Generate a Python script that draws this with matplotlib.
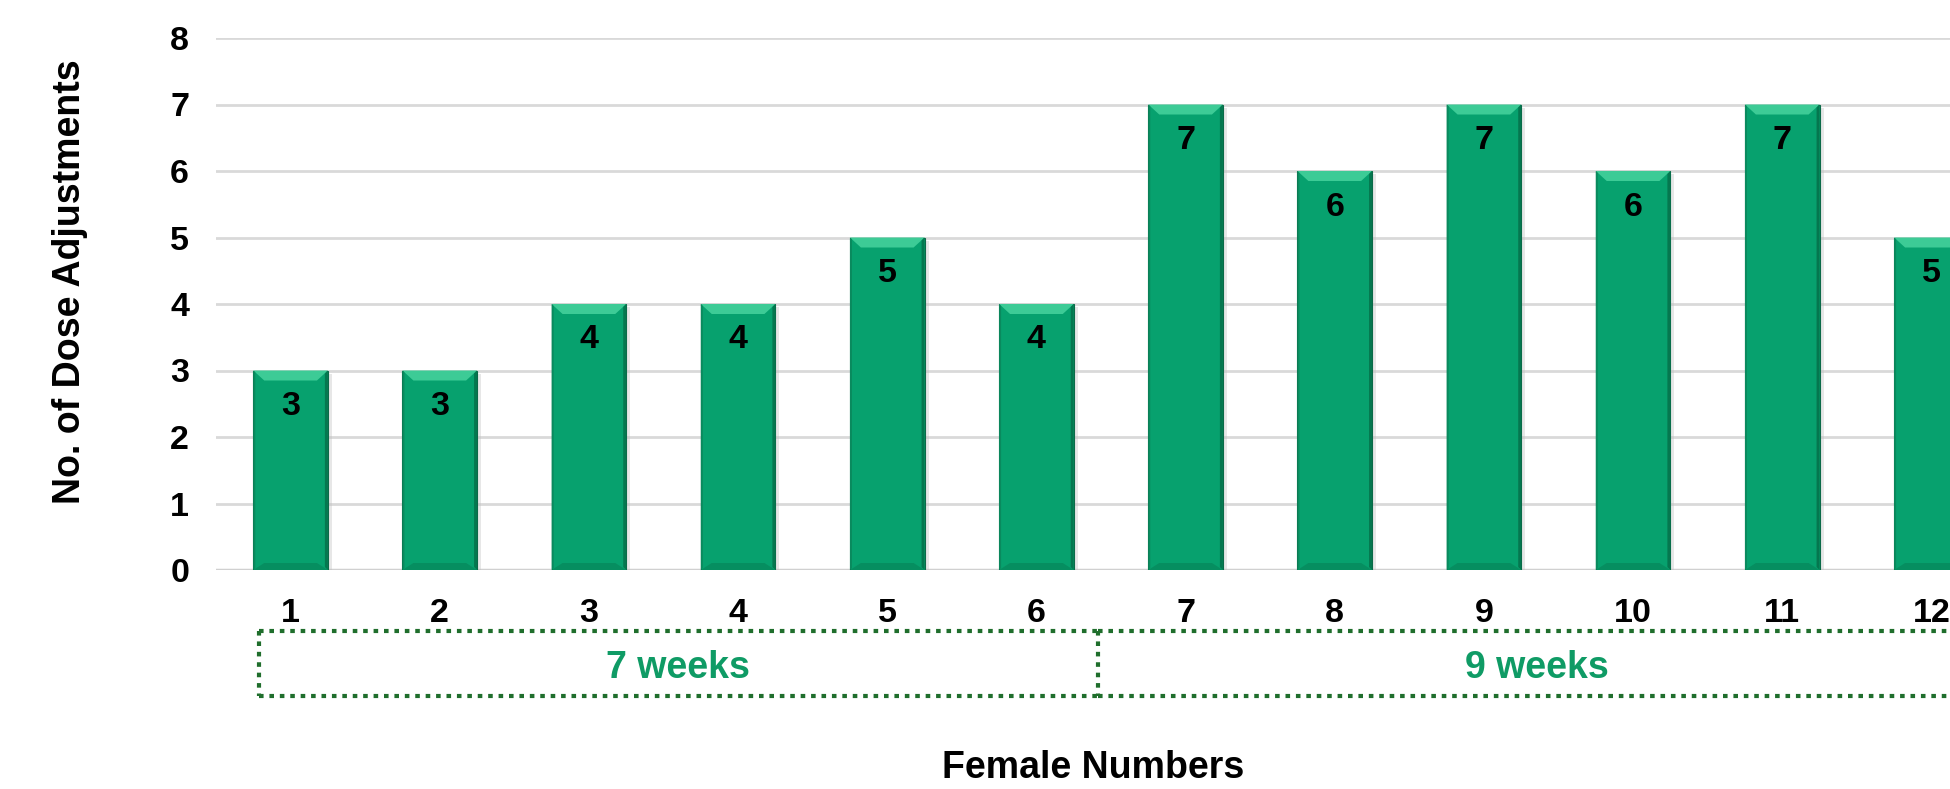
import matplotlib
matplotlib.use("Agg")
import matplotlib.pyplot as plt
from matplotlib.patches import Polygon, Rectangle
from matplotlib.transforms import blended_transform_factory

plt.rcParams['font.family'] = ['Liberation Sans', 'DejaVu Sans']

# Data
females = [1, 2, 3, 4, 5, 6, 7, 8, 9, 10, 11, 12]
adjustments = [3, 3, 4, 4, 5, 4, 7, 6, 7, 6, 7, 5]
y_ticks = [0, 1, 2, 3, 4, 5, 6, 7, 8]
groups = ["7 weeks", "9 weeks"]
group_bounds = [(0.79, 6.41), (6.41, 12.3)]

BAR = "#07A16E"
BAR_TOP = "#3DCB96"
BAR_DARK = "#05774F"
BOX = "#1F6E2C"
GROUP_TXT = "#0F9B65"

W, H, DPI = 1950, 789, 100
PT = 72.0 / DPI  # points per pixel

fig = plt.figure(figsize=(W / DPI, H / DPI), dpi=DPI)
ax = fig.add_axes([216 / W, 219 / H, (2006 - 216) / W, (570 - 38) / H])
ax.set_xlim(0.5, 12.5)
ax.set_ylim(0, 8)

for s in ax.spines.values():
    s.set_visible(False)
ax.set_yticks(y_ticks)
ax.yaxis.grid(True, color="#D9D9D9", linewidth=2)
ax.set_axisbelow(True)
ax.tick_params(length=0)
ax.tick_params(axis="y", pad=27 * PT, labelsize=24.5)
ax.tick_params(axis="x", pad=28 * PT, labelsize=24.5)
ax.set_xticks(females)
for lab in ax.get_xticklabels() + ax.get_yticklabels():
    lab.set_fontweight("bold")

bars = ax.bar(females, adjustments, width=0.5, color=BAR,
              edgecolor="#0B6A48", linewidth=0.8, zorder=2)

# bevel decorations, sized in pixels
px_x = 0.5 / 75.0
px_y = 8.0 / (570 - 38)
for b in bars:
    x0, w, h = b.get_x(), b.get_width(), b.get_height()
    x1 = x0 + w
    dx, dy = 11 * px_x, 10 * px_y
    # soft shadow on right
    ax.add_patch(Rectangle((x1, 0), 4 * px_x, h - 3 * px_y, color="#BDBDBD",
                           alpha=0.35, zorder=1.5, linewidth=0))
    ax.add_patch(Polygon([(x0, h), (x1, h), (x1 - dx, h - dy), (x0 + dx, h - dy)],
                         closed=True, color=BAR_TOP, zorder=3, linewidth=0))
    ax.add_patch(Polygon([(x1, h), (x1, 0), (x1 - 3 * px_x, 3 * px_y),
                          (x1 - 3 * px_x, h - 3 * px_y)],
                         closed=True, color=BAR_DARK, zorder=3, linewidth=0))
    ax.add_patch(Polygon([(x0, 0), (x1, 0), (x1 - dx, 7 * px_y), (x0 + dx, 7 * px_y)],
                         closed=True, color="#068E60", zorder=3, linewidth=0))
    ax.add_patch(Polygon([(x0, h), (x0, 0), (x0 + 2 * px_x, 2 * px_y),
                          (x0 + 2 * px_x, h - 2 * px_y)],
                         closed=True, color="#0A8A5E", zorder=3, linewidth=0))

ax.axhline(0, color="#D0D0D0", linewidth=2.5, zorder=1)

for x, v in zip(females, adjustments):
    ax.annotate(str(v), (x, v), xytext=(0, -36), textcoords="offset pixels",
                ha="center", va="center", fontsize=24.5, fontweight="bold",
                color="black", zorder=4)

fig.text(70 / W, 1 - 282 / H, "No. of Dose Adjustments", fontsize=27,
         fontweight="bold", rotation=90, ha="center", va="center")
fig.text(1093 / W, 1 - 778 / H, "Female Numbers", fontsize=27, fontweight="bold",
         ha="center", va="baseline")

# group boxes below axis
tr = blended_transform_factory(ax.transData, fig.transFigure)
y_top, y_bot = 1 - 631 / H, 1 - 696 / H
ls = dict(color=BOX, linewidth=3, linestyle=(0, (1.1, 1.4)), transform=tr,
          clip_on=False, solid_capstyle="butt", dash_capstyle="butt")
for (a, b), name in zip(group_bounds, groups):
    ax.plot([a, b], [y_top, y_top], **ls)
    ax.plot([a, b], [y_bot, y_bot], **ls)
    ax.plot([a, a], [y_top, y_bot], **ls)
    ax.text((a + b) / 2, 1 - 668 / H, name, transform=tr, ha="center", va="center",
            fontsize=27, fontweight="bold", color=GROUP_TXT, clip_on=False)

fig.savefig("out.png", dpi=DPI)
